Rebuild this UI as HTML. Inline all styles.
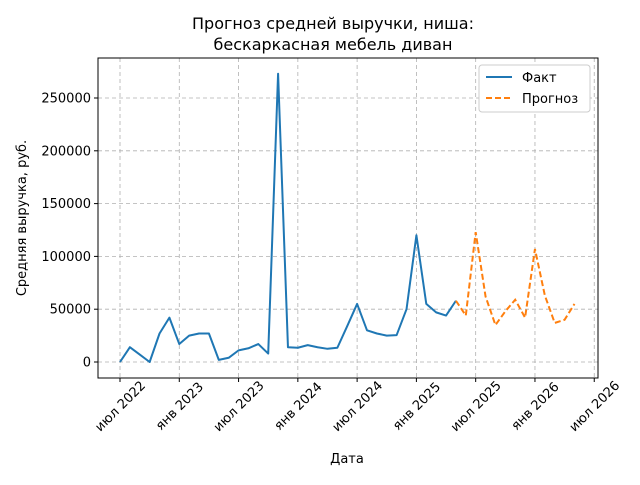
<!DOCTYPE html>
<html><head><meta charset="utf-8"><style>
body{margin:0;background:#fff;font-family:"Liberation Sans","DejaVu Sans",sans-serif}
svg text{font-family:"DejaVu Sans","Liberation Sans",sans-serif}
</style></head><body>
<svg id="c" width="640" height="480" xmlns="http://www.w3.org/2000/svg">
<rect width="640" height="480" fill="#fff"/>
<text x="333" y="29" font-size="16" text-anchor="middle">Прогноз средней выручки, ниша:</text>
<text x="333" y="50" font-size="16" text-anchor="middle">бескаркасная мебель диван</text>
<g id="grid"></g><g id="ticks"></g><g id="lines"></g>
<rect x="98" y="58" width="500" height="320" fill="none" stroke="#000" stroke-width="1"/>
<text x="347" y="463" font-size="13" text-anchor="middle">Дата</text>
<text transform="translate(26,218) rotate(-90)" font-size="13" text-anchor="middle">Средняя выручка, руб.</text>
<g>
<rect x="479" y="65" width="111" height="47" fill="#fff" stroke="#ccc" rx="3"/>
<line x1="486" y1="77" x2="512" y2="77" stroke="#1f77b4" stroke-width="2"/>
<text x="522" y="82" font-size="13">Факт</text>
<line x1="486" y1="98" x2="512" y2="98" stroke="#ff7f0e" stroke-width="2" stroke-dasharray="6,3"/>
<text x="522" y="103" font-size="13">Прогноз</text>
</g>
</svg>
<script>
const factValues=[0,14000,7000,0,27000,42000,17000,25000,27000,27000,2000,4000,11000,13000,17000,8000,273000,14000,13500,16000,14000,12500,13500,34000,55000,30000,27000,25000,25500,50000,120000,55000,47000,44000,58000];
const forecastValues=[58000,44000,123000,62000,35000,48000,59000,42000,107000,63000,37000,40000,55000];
const forecastStart=34;
const yTicks=[0,50000,100000,150000,200000,250000];
const xTickLabels=["июл 2022","янв 2023","июл 2023","янв 2024","июл 2024","янв 2025","июл 2025","янв 2026","июл 2026"];
const NS="http://www.w3.org/2000/svg";
const X=i=>120+i*9.88;
const Y=v=>362-v*52.8/50000;
function mk(p,t,a){const e=document.createElementNS(NS,t);for(const k in a)e.setAttribute(k,a[k]);document.getElementById(p).appendChild(e);return e;}
yTicks.forEach(v=>{
 const y=Y(v);
 const g=mk('grid','line',{x1:98,x2:598,y1:y,y2:y,stroke:'#b0b0b0','stroke-dasharray':'4,3','stroke-width':0.8});
 
 
 mk('ticks','line',{x1:94,x2:98,y1:y,y2:y,stroke:'#000'});
 const t=mk('ticks','text',{x:91,y:y+4.5,'font-size':13,'text-anchor':'end'});
 t.textContent=v;
 
 
});
xTickLabels.forEach((s,k)=>{
 const x=X(k*6);
 const g=mk('grid','line',{x1:x,x2:x,y1:58,y2:378,stroke:'#b0b0b0','stroke-dasharray':'4,3','stroke-width':0.8});
 
 
 mk('ticks','line',{x1:x,x2:x,y1:378,y2:382,stroke:'#000'});
 const t=mk('ticks','text',{x:0,y:4.5,'font-size':13,'text-anchor':'middle',transform:`translate(${x} 406) rotate(-45)`});
 t.textContent=s;
 
 
});
const f=mk('lines','polyline',{points:factValues.map((v,i)=>X(i)+','+Y(v)).join(' '),fill:'none',stroke:'#1f77b4','stroke-width':2,'stroke-linejoin':'round'});


const p=mk('lines','polyline',{points:forecastValues.map((v,i)=>X(i+forecastStart)+','+Y(v)).join(' '),fill:'none',stroke:'#ff7f0e','stroke-width':2,'stroke-dasharray':'6,3'});


</script>
</body></html>
